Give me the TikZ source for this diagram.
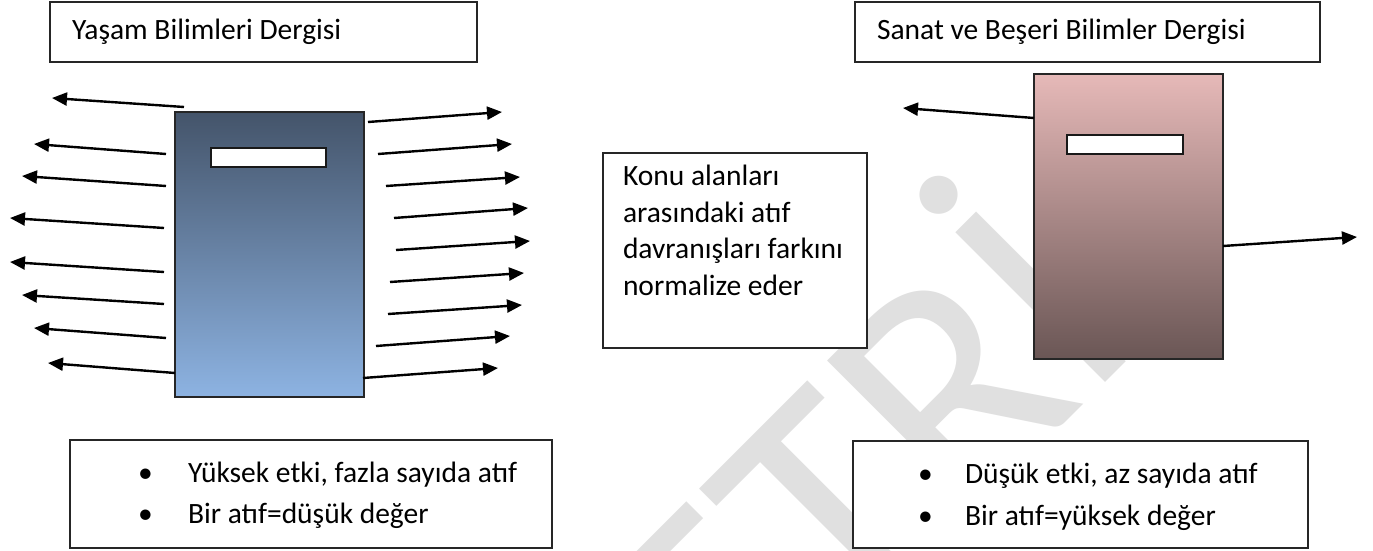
\documentclass[tikz,border=0pt]{standalone}
\usepackage{fontspec}
\setmainfont{Carlito}
\usetikzlibrary{arrows.meta}
\begin{document}
\begin{tikzpicture}[x=1pt,y=-1pt,
  box/.style={draw=black!85, line width=1.6pt, fill=white, inner sep=0pt, outer sep=0pt, anchor=north west},
  journal/.style={draw=black!85, line width=1.6pt, inner sep=0pt, outer sep=0pt, anchor=north west},
  slot/.style={draw=black!90, line width=1.6pt, fill=white, inner sep=0pt, outer sep=0pt, anchor=north west},
  arr/.style={line width=2.4pt, -{Triangle[length=15pt,width=13pt]}},
  txt/.style={anchor=base west, inner sep=0pt, outer sep=0pt, font=\fontsize{29.5}{34}\selectfont},
  wm/.style={text=black!12, inner sep=0pt, font=\fontsize{330}{330}\selectfont}]
\useasboundingbox (0,0) rectangle (1373,551);
\fill[white] (0,0) rectangle (1373,551);
% watermark
\begin{scope}
\clip (0,0) rectangle (1373,551);
\node[wm, rotate=45, anchor=base east] (wmark) at (1146,342) {METRİ};
\end{scope}
% title boxes
\node[box, minimum width=427pt, minimum height=60pt] (t1) at (50,2) {};
\node[txt] (t1txt) at (72,40) {Yaşam Bilimleri Dergisi};
\node[box, minimum width=465pt, minimum height=60pt] (t2) at (855,2) {};
\node[txt] (t2txt) at (877,40) {Sanat ve Beşeri Bilimler Dergisi};
% journals
\node[journal, minimum width=189pt, minimum height=285pt, top color={rgb,255:red,68;green,84;blue,106}, bottom color={rgb,255:red,141;green,179;blue,226}] (j1) at (175,112) {};
\node[slot, minimum width=115pt, minimum height=19pt] (s1) at (211,148) {};
\node[journal, minimum width=189pt, minimum height=285pt, top color={rgb,255:red,230;green,185;blue,184}, bottom color={rgb,255:red,106;green,86;blue,85}] (j2) at (1034,74) {};
\node[slot, minimum width=116pt, minimum height=19pt] (s2) at (1067,135) {};
% middle box
\node[box, minimum width=264pt, minimum height=195pt] (mid) at (603,153) {};
\node[txt] (m1) at (623,185) {Konu alanları};
\node[txt] (m2) at (623,222) {arasındaki atıf};
\node[txt] (m3) at (623,258) {davranışları farkını};
\node[txt] (m4) at (623,295) {normalize eder};
% bottom boxes
\node[box, minimum width=482pt, minimum height=108pt] (b1) at (70,440) {};
\node[txt] (b1a) at (138,482) {•};
\node[txt] (b1b) at (188,482) {Yüksek etki, fazla sayıda atıf};
\node[txt] (b1c) at (138,523) {•};
\node[txt] (b1d) at (188,523) {Bir atıf=düşük değer};
\node[box, minimum width=455pt, minimum height=107pt] (b2) at (853,441) {};
\node[txt] (b2a) at (918,483) {•};
\node[txt] (b2b) at (965,483) {Düşük etki, az sayıda atıf};
\node[txt] (b2c) at (918,525) {•};
\node[txt] (b2d) at (965,525) {Bir atıf=yüksek değer};
% arrow coordinates
\foreach \i/\tx/\ty/\hx/\hy in {1/184/107/52/98, 2/166/154/34/144, 3/166/186/22/176, 4/164/228/10/218, 5/164/272/10/262, 6/164/304/22/295, 7/166/338/34/328, 8/175/373/48/363}{
  \coordinate (lt\i) at (\tx,\ty);
  \coordinate (lh\i) at (\hx,\hy);
  \draw[arr] (lt\i) -- (lh\i);
}
\foreach \i/\tx/\ty/\hx/\hy in {1/368/122/502/112, 2/378/154/512/144, 3/386/186/520/177, 4/394/218/528/208, 5/396/250/530/241, 6/390/282/524/273, 7/388/314/522/305, 8/376/346/510/336, 9/363/378/498/368}{
  \coordinate (rt\i) at (\tx,\ty);
  \coordinate (rh\i) at (\hx,\hy);
  \draw[arr] (rt\i) -- (rh\i);
}
\coordinate (al) at (903,108);
\coordinate (ar) at (1357,237);
\draw[arr] (j2.west |- 0,118) -- (al);
\draw[arr] (j2.east |- 0,246) -- (ar);
\end{tikzpicture}
\end{document}
